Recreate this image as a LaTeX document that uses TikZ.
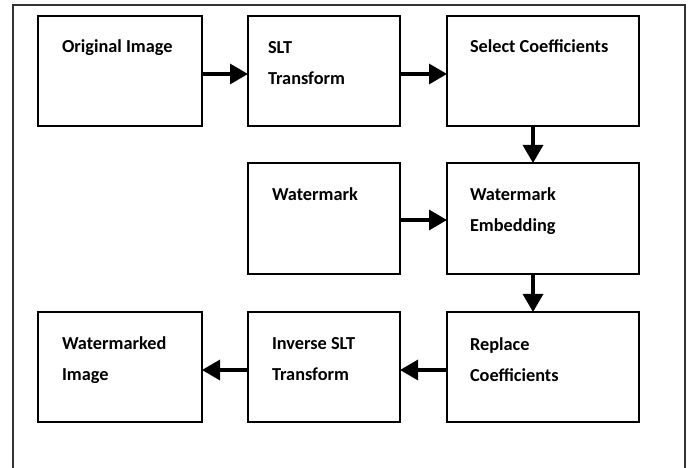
\documentclass[tikz,border=0pt]{standalone}
\usepackage{fontspec}
\setmainfont{Carlito}
\usetikzlibrary{arrows.meta}
\tikzset{
  box/.style={draw=black, line width=2bp, fill=white, inner sep=0pt, outer sep=0pt},
  lbl/.style={anchor=base west, inner sep=0pt, outer sep=0pt, align=left,
    font=\fontsize{18.3bp}{31bp}\selectfont\bfseries},
  arr/.style={line width=3.2bp, -{Triangle[length=18bp,width=20bp]}},
  frame/.style={draw=black!80, line width=1.3bp}
}
\begin{document}
\begin{tikzpicture}[x=1bp,y=-1bp]
\useasboundingbox (0,0) rectangle (689,468);
\coordinate (fbl) at (13,480);
\coordinate (ftl) at (13,5);
\coordinate (ftr) at (685,5);
\coordinate (fbr) at (685,480);
\draw[frame] (fbl) -- (ftl) -- (ftr) -- (fbr);
% row 1
\node[box, minimum width=164bp, minimum height=110bp] (orig) at (120,71) {};
\node[box, minimum width=152bp, minimum height=110bp] (slt) at (324,71) {};
\node[box, minimum width=192bp, minimum height=110bp] (sel) at (543,71) {};
% row 2
\node[box, minimum width=152bp, minimum height=111bp] (wm) at (324,218.5) {};
\node[box, minimum width=192bp, minimum height=111bp] (emb) at (543,218.5) {};
% row 3
\node[box, minimum width=164bp, minimum height=110bp] (wmi) at (120,367) {};
\node[box, minimum width=152bp, minimum height=110bp] (inv) at (324,367) {};
\node[box, minimum width=192bp, minimum height=110bp] (rep) at (543,367) {};
% labels (base = baseline of the last line)
\node[lbl] (t1) at (62,53) {Original Image};
\node[lbl] (t2) at (268,85) {SLT\\Transform};
\node[lbl] (t3) at (470,53) {Select Coefficients};
\node[lbl] (t4) at (272,201) {Watermark};
\node[lbl] (t5) at (470,232) {Watermark\\Embedding};
\node[lbl] (t6) at (62,380) {Watermarked\\Image};
\node[lbl] (t7) at (272,380) {Inverse SLT\\Transform};
\node[lbl] (t8) at (470,381) {Replace\\Coefficients};
% arrows
\draw[arr] ([yshift=-3bp]orig.east) -- ([yshift=-3bp]slt.west);
\draw[arr] ([yshift=-3bp]slt.east) -- ([yshift=-3bp]sel.west);
\draw[arr] ([xshift=-10bp]sel.south) -- ([xshift=-10bp]emb.north);
\draw[arr] ([yshift=-1.5bp]wm.east) -- ([yshift=-1.5bp]emb.west);
\draw[arr] ([xshift=-10bp]emb.south) -- ([xshift=-10bp]rep.north);
\draw[arr] ([yshift=-3bp]rep.west) -- ([yshift=-3bp]inv.east);
\draw[arr] ([yshift=-3bp]inv.west) -- ([yshift=-3bp]wmi.east);
\end{tikzpicture}
\end{document}
